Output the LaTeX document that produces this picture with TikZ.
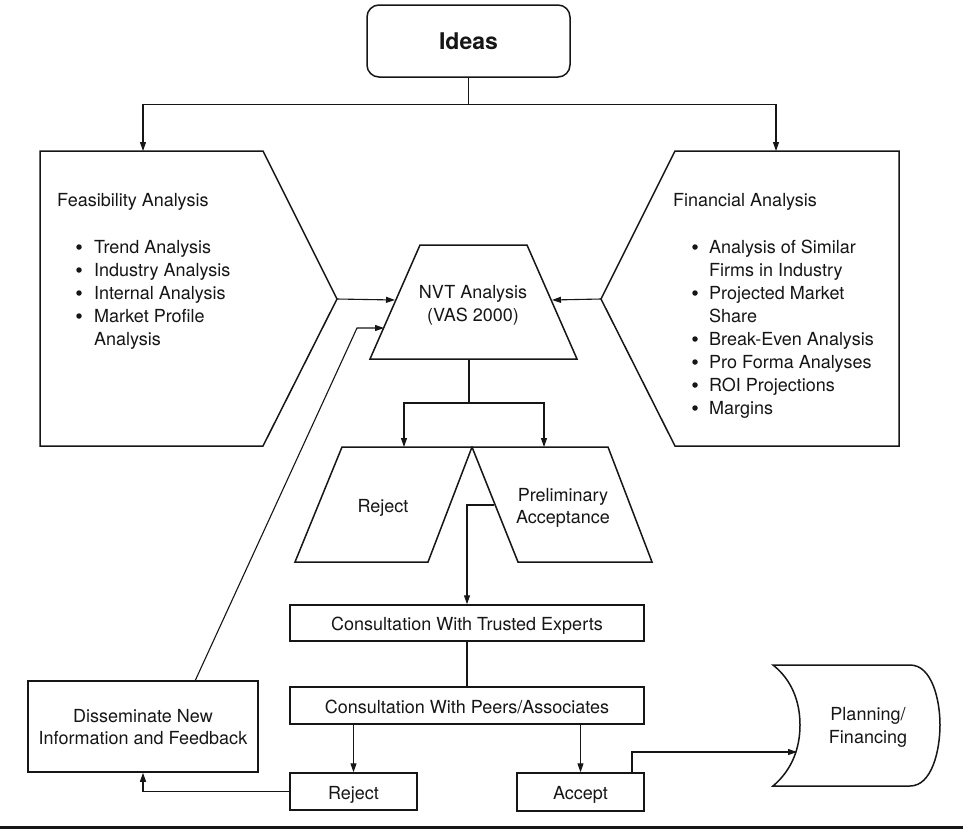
\documentclass[tikz,border=0pt]{standalone}
\usepackage{fontspec}
\setmainfont{TeX Gyre Heros}
\usetikzlibrary{arrows.meta}
\definecolor{ink}{RGB}{22,22,22}
\begin{document}
\begin{tikzpicture}[x=1pt,y=-1pt,
  outline/.style={draw=ink, line width=1.5pt, line join=miter},
  boxnode/.style={draw=ink, line width=1.5pt, inner sep=0pt, fill=white},
  link/.style={draw=ink, line width=1.1pt},
  conn/.style={draw=ink, line width=1.1pt, -{Triangle[length=9pt,width=6pt]}},
  txt/.style={font=\fontsize{18}{23}\selectfont, text=ink, inner sep=0pt, anchor=base},
  ltxt/.style={txt, anchor=base west},
  dot/.style={circle, fill=ink, inner sep=0pt, minimum size=5.5pt}]
\useasboundingbox (0,0) rectangle (963,828);
\fill[white] (0,0) rectangle (963,828);

% Ideas
\node[boxnode, rounded corners=12pt, minimum width=203pt, minimum height=72pt] (ideas) at (468.5,41) {};
\node[txt, font=\fontsize{23}{27}\bfseries] (ideastxt) at (468.5,49) {Ideas};

% Feasibility shape
\draw[outline] (40,151) -- (263,151) -- (337,299) -- (263,446) -- (40,446) -- cycle;
\coordinate (feasTop) at (143,151);
\coordinate (feasTip) at (337,299);
\node[ltxt] (feash) at (57,206) {Feasibility Analysis};
\foreach \t/\y/\n in {Trend Analysis/253/1, Industry Analysis/276/2, Internal Analysis/299/3, Market Profile/322/4}{
  \node[dot] (fb\n) at (79,{\y-6}) {};
  \node[ltxt] (ft\n) at (94,\y) {\t};
}
\node[ltxt] (ft5) at (94,345) {Analysis};

% Financial shape
\draw[outline] (675,151) -- (899,151) -- (899,446) -- (675,446) -- (601,299) -- cycle;
\coordinate (finTop) at (776,151);
\coordinate (finTip) at (601,299);
\node[ltxt] (finh) at (673,206) {Financial Analysis};
\foreach \t/\y/\n in {Analysis of Similar/253/1, Projected Market/299/2, Break-Even Analysis/345/3, Pro Forma Analyses/368/4, ROI Projections/391/5, Margins/414/6}{
  \node[dot] (gb\n) at (695,{\y-6}) {};
  \node[ltxt] (gt\n) at (709,\y) {\t};
}
\node[ltxt] (gc1) at (709,276) {Firms in Industry};
\node[ltxt] (gc2) at (709,322) {Share};

% NVT trapezoid
\draw[outline] (420,245) -- (527,245) -- (577,359) -- (370,359) -- cycle;
\node[txt] (nvt1) at (473,298) {NVT Analysis};
\node[txt] (nvt2) at (473,321) {(VAS 2000)};
\coordinate (nvtL) at (395,300);
\coordinate (nvtR) at (552,300);
\coordinate (nvtL2) at (384,328);
\coordinate (nvtB) at (469,359);
\coordinate (split) at (469,403);

% Reject / Preliminary
\draw[outline] (342,447) -- (472,447) -- (428,562) -- (295,562) -- cycle;
\draw[outline] (472,447) -- (608,447) -- (652,562) -- (518,562) -- cycle;
\node[txt] (rej1) at (383,512) {Reject};
\node[txt] (pre1) at (563,501) {Preliminary};
\node[txt] (pre2) at (563,523) {Acceptance};
\coordinate (rejIn) at (404,447);
\coordinate (preIn) at (544,447);
\coordinate (preOut) at (494,505);

% Consultation boxes
\node[boxnode, minimum width=354pt, minimum height=36pt] (trusted) at (467,623) {};
\node[txt] (trustedtxt) at (467,630) {Consultation With Trusted Experts};
\node[boxnode, minimum width=354pt, minimum height=37pt] (peers) at (467,705.5) {};
\node[txt] (peerstxt) at (467,713) {Consultation With Peers/Associates};

% Reject / Accept boxes
\node[boxnode, minimum width=127pt, minimum height=37pt] (rej2) at (353.5,791.5) {};
\node[txt] (rej2txt) at (353.5,799) {Reject};
\node[boxnode, minimum width=127pt, minimum height=38pt] (acc) at (580.5,792) {};
\node[txt] (acctxt) at (580.5,799) {Accept};

% Disseminate
\node[boxnode, minimum width=230pt, minimum height=91pt] (dis) at (143,726.5) {};
\node[txt] (dis1) at (143,722) {Disseminate New};
\node[txt] (dis2) at (143,744) {Information and Feedback};
\coordinate (disOut) at (195,681);
\coordinate (fbBend) at (357,328);

% Planning
\draw[outline] (773,665) -- (910,665) .. controls (932,665) and (940,700) .. (940,725)
  .. controls (940,750) and (932,786) .. (910,786) -- (773,786)
  .. controls (792,770) and (800,748) .. (800,725) .. controls (800,702) and (792,680) .. (773,665) -- cycle;
\node[txt] (plan1) at (868,720) {Planning/};
\node[txt] (plan2) at (868,743) {Financing};
\coordinate (planIn) at (797,752);
\coordinate (accOut) at (632,773);

% Connectors
\draw[conn] (ideas.south) -- ++(0,27) -| (feasTop);
\draw[conn] (ideas.south) -- ++(0,27) -| (finTop);
\draw[conn] (feasTip) -- (nvtL);
\draw[conn] (finTip) -- (nvtR);
\draw[conn] (disOut) -- (fbBend) -- (nvtL2);
\draw[link] (nvtB) -- (split);
\draw[conn] (split) -| (rejIn);
\draw[conn] (split) -| (preIn);
\draw[conn] (preOut) -| (trusted.north);
\draw[link] (trusted.south) -- (peers.north);
\draw[conn] (peers.south -| rej2.north) -- (rej2.north);
\draw[conn] (peers.south -| acc.north) -- (acc.north);
\draw[conn] (rej2.west) -| (dis.south);
\draw[conn] (accOut) |- (planIn);

% bottom rule
\draw[ink, line width=3pt] (0,827) -- (963,827);
\end{tikzpicture}
\end{document}
